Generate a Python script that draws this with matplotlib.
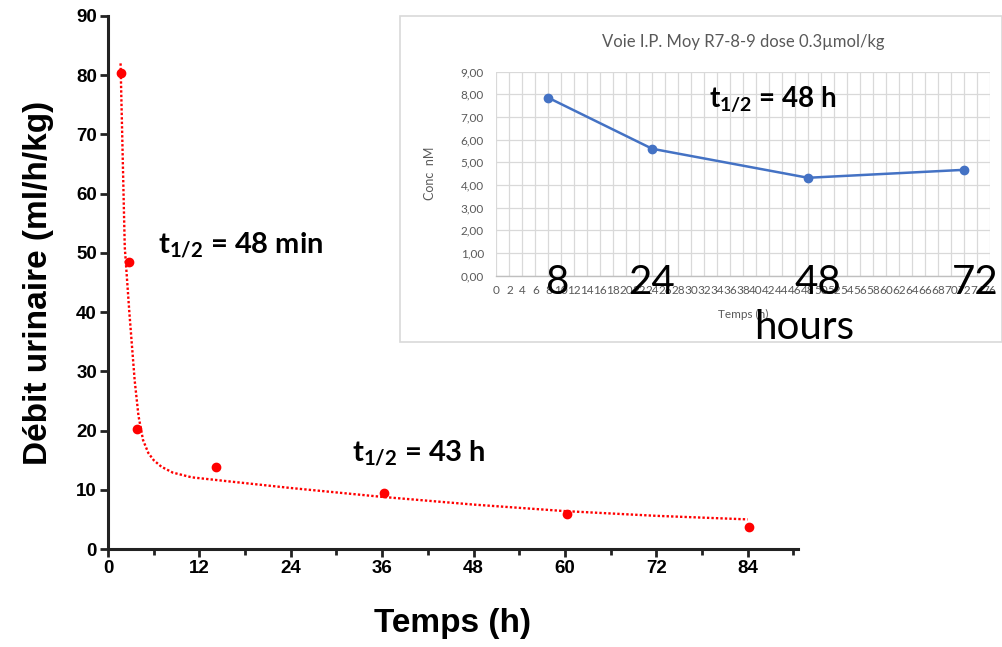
import numpy as np
import matplotlib.pyplot as plt
from matplotlib.patches import Rectangle
from matplotlib.ticker import MultipleLocator, FuncFormatter

plt.rcParams['mathtext.fontset'] = 'custom'
plt.rcParams['mathtext.rm'] = 'Lato'
plt.rcParams['mathtext.bf'] = 'Lato:bold'

# débit urinaire mesuré (ml/h/kg) en fonction du temps (h)
temps = [1.7, 2.7, 3.8, 14.2, 36.2, 60.3, 84.2]
debit = [80.4, 48.4, 20.2, 13.9, 9.5, 5.9, 3.7]

# courbe d'ajustement biexponentielle
fit_t = [1.65, 2.2, 2.8, 3.5, 4.0, 4.6, 5.3, 6.0, 7.0, 8.5, 11.0, 16.0,
         24.0, 36.0, 48.0, 60.0, 72.0, 84.0]
fit_y = [82.0, 51.0, 40.0, 28.5, 22.5, 18.4, 16.2, 15.0, 13.9, 12.9, 12.1, 11.4,
         10.3, 8.8, 7.5, 6.4, 5.6, 5.0]

# concentration plasmatique, voie I.P.
ip_t = [8, 24, 48, 72]
ip_conc = [7.85, 5.6, 4.32, 4.67]
ip_labels = ['8', '24', '48', '72']

W, H = 1003, 647
fig = plt.figure(figsize=(W / 100, H / 100), dpi=100)

def fx(px):
    return px / W

def fy(py):
    return 1 - py / H

# ---- graphe principal ----
ax = fig.add_axes([fx(108), fy(549), fx(798) - fx(108), fy(16) - fy(549)], zorder=0)
ax.plot(fit_t, fit_y, color='red', lw=1.7, ls=(0, (1, 0.9)), zorder=2)
ax.plot(temps, debit, 'o', color='red', ms=6, zorder=3)
ax.set_xlim(0, 90.6)
ax.set_ylim(0, 90)
ax.set_xticks(range(0, 85, 12))
ax.xaxis.set_minor_locator(MultipleLocator(6))
ax.set_yticks(range(0, 91, 10))
for s in ['top', 'right']:
    ax.spines[s].set_visible(False)
for s in ['left', 'bottom']:
    ax.spines[s].set_linewidth(2.2)
    ax.spines[s].set_color('#222222')
ax.tick_params(which='major', length=6, width=2, color='#222222', pad=2)
ax.tick_params(which='minor', length=4, width=2, color='#222222')
for lab in ax.get_xticklabels() + ax.get_yticklabels():
    lab.set_fontfamily('Liberation Sans')
    lab.set_fontweight('bold')
    lab.set_fontsize(13.5)
ax.set_xlabel('Temps (h)', fontfamily='Liberation Sans', fontweight='bold',
              fontsize=24, labelpad=22)
ax.set_ylabel('Débit urinaire (ml/h/kg)', fontfamily='Liberation Sans',
              fontweight='bold', fontsize=24, labelpad=16)

fig.text(fx(158), fy(245), r'$\mathbf{t_{1/2}}$ = 48 min', fontfamily='Lato',
         fontweight='bold', fontsize=21, ha='left', va='center')
fig.text(fx(352), fy(453), r'$\mathbf{t_{1/2}}$ = 43 h', fontfamily='Lato',
         fontweight='bold', fontsize=21, ha='left', va='center')

# ---- encart Excel ----
frame = Rectangle((fx(400), fy(342)), fx(1002) - fx(400), fy(16) - fy(342),
                  transform=fig.transFigure, facecolor='white',
                  edgecolor='#D9D9D9', lw=1.2, zorder=1)
fig.add_artist(frame)

axi = fig.add_axes([fx(496.4), fy(275.7), fx(989.7) - fx(496.4), fy(71.7) - fy(275.7)],
                   zorder=2)
axi.patch.set_alpha(0)
axi.plot(ip_t, ip_conc, '-o', color='#4472C4', lw=1.8, ms=6, zorder=3)
axi.set_xlim(0, 76)
axi.set_ylim(0, 9)
axi.set_xticks(range(0, 77, 2))
axi.set_yticks(range(0, 10))
axi.yaxis.set_major_formatter(FuncFormatter(lambda v, p: f'{v:.2f}'.replace('.', ',')))
axi.grid(True, color='#D9D9D9', lw=0.9)
axi.set_axisbelow(True)
for s in ['top', 'right', 'left']:
    axi.spines[s].set_visible(False)
axi.spines['bottom'].set_color('#BFBFBF')
axi.spines['bottom'].set_linewidth(1)
axi.tick_params(length=0, labelsize=8.5, labelcolor='#595959')
axi.tick_params(axis='x', pad=7)
axi.tick_params(axis='y', pad=9)
for lab in axi.get_xticklabels() + axi.get_yticklabels():
    lab.set_fontfamily('Lato')

fig.text(fx(743), fy(42), 'Voie I.P. Moy R7-8-9 dose 0.3µmol/kg', fontfamily='Lato',
         fontsize=12, color='#595959', ha='center', va='center', zorder=4)
fig.text(fx(430), fy(173), 'Conc  nM', fontfamily='Lato', fontsize=9,
         color='#595959', rotation=90, ha='center', va='center', zorder=4)
fig.text(fx(743), fy(314), 'Temps (h)', fontfamily='Lato', fontsize=8.5,
         color='#595959', ha='center', va='center', zorder=4)
fig.text(fx(773), fy(100), r'$\mathbf{t_{1/2}}$ = 48 h', fontfamily='Lato',
         fontweight='bold', fontsize=20, ha='center', va='center', zorder=4)

# grands repères horaires posés sur l'axe
for lab, px in zip(ip_labels, [558, 652, 818, 975]):
    fig.text(fx(px), fy(282), lab, fontfamily='Lato', fontsize=29,
             ha='center', va='center', zorder=5)
fig.text(fx(804), fy(327), 'hours', fontfamily='Lato', fontsize=29,
         ha='center', va='center', zorder=5)

fig.savefig('out.png', dpi=100)
